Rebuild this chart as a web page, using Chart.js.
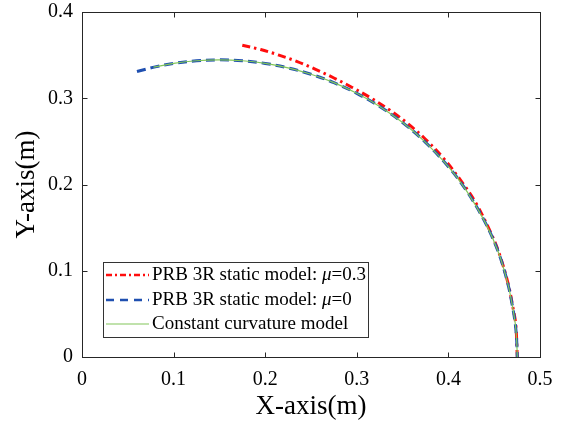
<!DOCTYPE html>
<html>
<head>
<meta charset="utf-8">
<script src="https://cdn.jsdelivr.net/npm/chart.js@4.4.0/dist/chart.umd.min.js"></script>
<style>
  html, body { margin: 0; padding: 0; background: #fff; }
  #wrap { width: 562px; height: 425px; }
</style>
</head>
<body>
<div id="wrap"><canvas id="chartArc"></canvas></div>
<script>
// ticks
const xTicks = [0, 0.1, 0.2, 0.3, 0.4, 0.5];
const yTicks = [0, 0.1, 0.2, 0.3, 0.4];
const xTickLabels = ['0', '0.1', '0.2', '0.3', '0.4', '0.5'];
const yTickLabels = ['0', '0.1', '0.2', '0.3', '0.4'];

// legend text (mu in italics)
const seriesNames = ['PRB 3R static model: ', 'PRB 3R static model: ', 'Constant curvature model'];
const seriesMu = ['\u03bc', '\u03bc', ''];
const seriesMuValue = ['=0.3', '=0', ''];

// PRB 3R, mu = 0.3
const redX = [0.175, 0.195, 0.215, 0.235, 0.255, 0.275, 0.295, 0.315, 0.335, 0.355, 0.375, 0.395, 0.415, 0.430, 0.445, 0.455, 0.465, 0.470, 0.4735, 0.4752];
const redY = [0.3615, 0.3565, 0.3500, 0.3425, 0.3335, 0.3235, 0.3125, 0.3005, 0.2870, 0.2712, 0.2525, 0.2300, 0.2025, 0.1785, 0.1470, 0.1215, 0.0860, 0.0600, 0.0380, 0];

// PRB 3R, mu = 0
const blueX = [0.060, 0.080, 0.100, 0.125, 0.150, 0.175, 0.200, 0.225, 0.250, 0.275, 0.300, 0.325, 0.350, 0.375, 0.400, 0.420, 0.440, 0.455, 0.465, 0.470, 0.473, 0.4745, 0.4752];
const blueY = [0.3311, 0.3364, 0.3404, 0.3435, 0.3445, 0.3435, 0.3404, 0.3352, 0.3278, 0.3181, 0.3057, 0.2905, 0.2718, 0.2489, 0.2206, 0.1924, 0.1564, 0.1203, 0.0845, 0.0585, 0.0385, 0.0200, 0];

// constant curvature
const greenX = [0.078, 0.100, 0.125, 0.150, 0.175, 0.200, 0.225, 0.250, 0.275, 0.300, 0.325, 0.350, 0.375, 0.400, 0.420, 0.440, 0.455, 0.465, 0.470, 0.473, 0.4745, 0.4752];
const greenY = [0.3360, 0.3404, 0.3435, 0.3445, 0.3435, 0.3404, 0.3352, 0.3278, 0.3181, 0.3057, 0.2905, 0.2718, 0.2489, 0.2206, 0.1924, 0.1564, 0.1203, 0.0845, 0.0585, 0.0385, 0.0200, 0];

const toPts = (xs, ys) => xs.map((x, i) => ({ x: x, y: ys[i] }));

const serif = '"Liberation Serif", "Times New Roman", serif';

// box + inward ticks like matlab
const boxPlugin = {
  id: 'boxPlugin',
  afterDatasetsDraw(chart) {
    const { ctx, chartArea: a, scales } = chart;
    const L = Math.round(a.left) + 0.5, R = Math.round(a.right) + 0.5;
    const T = Math.round(a.top) + 0.5, B = Math.round(a.bottom) + 0.5;
    const tk = 5;
    ctx.save();
    ctx.strokeStyle = '#262626';
    ctx.lineWidth = 1;
    ctx.strokeRect(L, T, R - L, B - T);
    ctx.beginPath();
    xTicks.forEach(v => {
      const px = Math.round(scales.x.getPixelForValue(v)) + 0.5;
      ctx.moveTo(px, B); ctx.lineTo(px, B - tk);
      ctx.moveTo(px, T); ctx.lineTo(px, T + tk);
    });
    yTicks.forEach(v => {
      const py = Math.round(scales.y.getPixelForValue(v)) + 0.5;
      ctx.moveTo(L, py); ctx.lineTo(L + tk, py);
      ctx.moveTo(R, py); ctx.lineTo(R - tk, py);
    });
    ctx.stroke();
    ctx.restore();
  }
};

// legend box inside plot, bottom-left
const legendPlugin = {
  id: 'legendPlugin',
  afterDraw(chart) {
    const ctx = chart.ctx;
    const bx = 103, by = 262, bw = 265, bh = 75;
    ctx.save();
    ctx.fillStyle = '#fff';
    ctx.fillRect(bx, by, bw, bh);
    ctx.strokeStyle = '#333';
    ctx.lineWidth = 1;
    ctx.strokeRect(bx + 0.5, by + 0.5, bw, bh);
    const rows = [275, 300, 324];
    chart.data.datasets.forEach((ds, i) => {
      const y = rows[i];
      ctx.strokeStyle = ds.borderColor;
      ctx.lineWidth = ds.legendWidth;
      ctx.setLineDash(ds.legendDash);
      ctx.beginPath();
      ctx.moveTo(106, y);
      ctx.lineTo(149, y);
      ctx.stroke();
      ctx.setLineDash([]);
      ctx.fillStyle = '#000';
      ctx.textBaseline = 'middle';
      ctx.font = '19px ' + serif;
      let tx = 152;
      ctx.fillText(seriesNames[i], tx, y);
      tx += ctx.measureText(seriesNames[i]).width;
      if (seriesMu[i]) {
        ctx.font = 'italic 19px ' + serif;
        ctx.fillText(seriesMu[i], tx, y);
        tx += ctx.measureText(seriesMu[i]).width;
        ctx.font = '19px ' + serif;
        ctx.fillText(seriesMuValue[i], tx, y);
      }
    });
    ctx.restore();
  }
};

const ctx = document.getElementById('chartArc').getContext('2d');
new Chart(ctx, {
  type: 'scatter',
  data: {
    datasets: [
      {
        label: 'mu=0.3',
        data: toPts(redX, redY),
        borderColor: '#ff0d0d',
        borderWidth: 3,
        borderDash: [8, 4, 2.5, 4],
        legendDash: [6, 3, 2, 3],
        legendWidth: 2.5,
        order: 3
      },
      {
        label: 'mu=0',
        data: toPts(blueX, blueY),
        borderColor: '#1f4fb0',
        borderWidth: 3,
        borderDash: [9, 5],
        legendDash: [8, 6],
        legendWidth: 2.5,
        order: 2
      },
      {
        label: 'cc',
        data: toPts(greenX, greenY),
        borderColor: '#82c65a',
        borderWidth: 1.2,
        borderDash: [],
        legendDash: [],
        legendWidth: 1.2,
        order: 1
      }
    ]
  },
  options: {
    responsive: true,
    maintainAspectRatio: false,
    animation: false,
    showLine: true,
    elements: {
      point: { radius: 0, hoverRadius: 0 },
      line: { tension: 0.35, fill: false }
    },
    layout: { padding: { top: 12, right: 22, left: 0, bottom: 0 } },
    plugins: { legend: { display: false }, tooltip: { enabled: false } },
    scales: {
      x: {
        type: 'linear',
        min: 0, max: 0.5,
        afterBuildTicks: s => { s.ticks = xTicks.map(v => ({ value: v })); },
        afterFit: s => { s.height = 68; s.paddingLeft = 0; s.paddingRight = 0; },
        grid: { display: false, drawTicks: false },
        border: { display: false },
        ticks: {
          color: '#000', padding: 11,
          font: { family: serif, size: 20 },
          callback: (v, i) => xTickLabels[i]
        },
        title: {
          display: true, text: 'X-axis(m)', color: '#000',
          font: { family: serif, size: 27 },
          padding: { top: 0, bottom: 2 }
        }
      },
      y: {
        type: 'linear',
        min: 0, max: 0.4,
        afterBuildTicks: s => { s.ticks = yTicks.map(v => ({ value: v })); },
        afterFit: s => { s.width = 82; s.paddingTop = 0; s.paddingBottom = 0; },
        grid: { display: false, drawTicks: false },
        border: { display: false },
        ticks: {
          color: '#000', padding: 9,
          font: { family: serif, size: 20 },
          callback: (v, i) => yTickLabels[i]
        },
        title: {
          display: true, text: 'Y-axis(m)', color: '#000',
          font: { family: serif, size: 27 },
          padding: { top: 11, bottom: 0 }
        }
      }
    }
  },
  plugins: [boxPlugin, legendPlugin]
});
</script>
</body>
</html>
